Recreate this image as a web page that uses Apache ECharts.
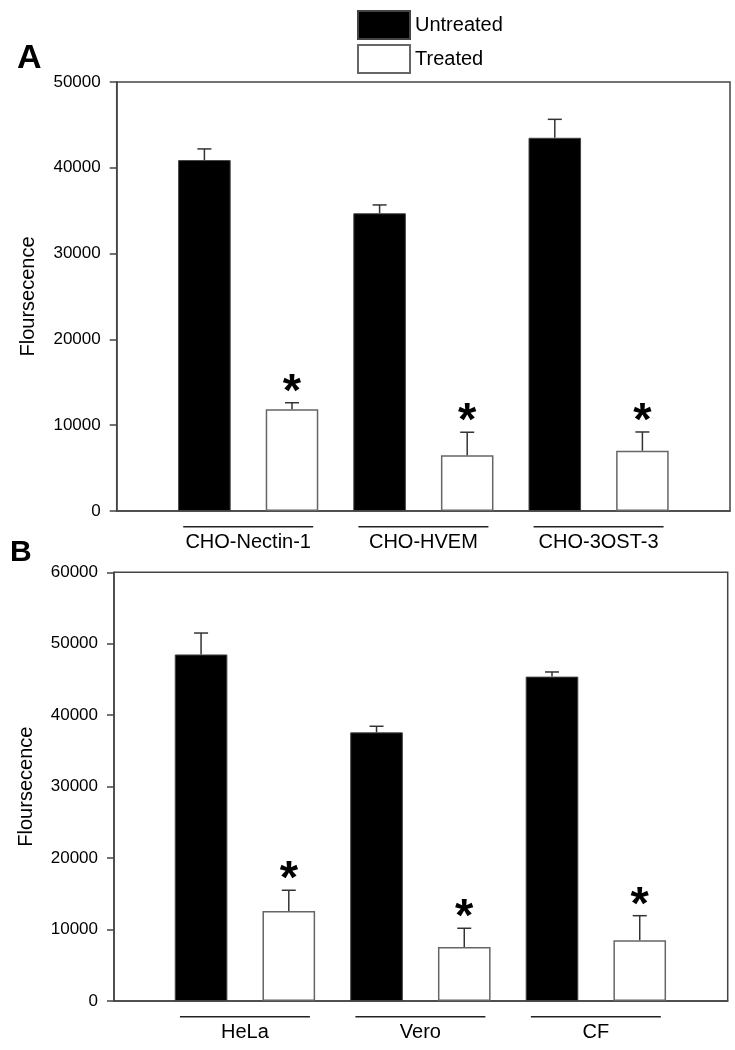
<!DOCTYPE html>
<html>
<head>
<meta charset="utf-8">
<script src="https://cdn.jsdelivr.net/npm/echarts@6/dist/echarts.min.js"></script>
<style>
  html, body { margin: 0; padding: 0; background: #fff; }
  #chart { width: 735px; height: 1050px; }
</style>
</head>
<body>
<div id="chart"></div>
<script>
// panel A data
const categoriesA = ['CHO-Nectin-1', 'CHO-HVEM', 'CHO-3OST-3']
const untreatedA = [40900, 34700, 43500]
const untreatedErrA = [1300, 970, 2150]
const treatedA = [11850, 6500, 7030]
const treatedErrA = [770, 2680, 2180]
const significantA = [1, 1, 1]
const yMaxA = 50000

// panel B data
const categoriesB = ['HeLa', 'Vero', 'CF']
const untreatedB = [48500, 37600, 45400]
const untreatedErrB = [3000, 850, 650]
const treatedB = [12600, 7560, 8500]
const treatedErrB = [2900, 2620, 3440]
const significantB = [1, 1, 1]
const yMaxB = 60000

const yInterval = 10000
const FONT = 'Liberation Sans, Arial, sans-serif'

const chart = echarts.init(document.getElementById('chart'))

// error bar (+ optional asterisk) drawn through the bar grid scales
function errorSeries (name, xIdx, yIdx, values, errs, sig, offset) {
  return {
    name: name,
    type: 'custom',
    xAxisIndex: xIdx,
    yAxisIndex: yIdx,
    z: 5,
    data: values.map((v, i) => [i, v, errs[i], sig ? sig[i] : 0]),
    renderItem: function (params, api) {
      const base = api.coord([api.value(0), api.value(1)])
      const top = api.coord([api.value(0), api.value(1) + api.value(2)])
      const band = api.size([1, 0])[0]
      const x = base[0] + offset * band
      const style = { stroke: '#333', lineWidth: 1.5 }
      const children = [
        { type: 'line', shape: { x1: x, y1: base[1], x2: x, y2: top[1] }, style: style },
        { type: 'line', shape: { x1: x - 7, y1: top[1], x2: x + 7, y2: top[1] }, style: style }
      ]
      if (api.value(3)) {
        children.push({
          type: 'text',
          style: {
            text: '*',
            x: x,
            y: top[1] - 10,
            align: 'center',
            verticalAlign: 'middle',
            font: 'bold 47px ' + FONT,
            fill: '#000'
          }
        })
      }
      return { type: 'group', children: children }
    }
  }
}

function catLabel () {
  return {
    margin: 15,
    interval: 0,
    formatter: v => '{u|}\n{t|' + v + '}',
    rich: {
      u: { width: 130, height: 1.5, backgroundColor: '#222' },
      t: { fontSize: 20, fontFamily: FONT, color: '#000', lineHeight: 29 }
    }
  }
}

function frameY (gridIndex, max) {
  return {
    type: 'value',
    gridIndex: gridIndex,
    min: 0,
    max: max,
    interval: yInterval,
    name: 'Floursecence',
    nameLocation: 'middle',
    nameGap: 78,
    nameTextStyle: { fontSize: 20, fontFamily: FONT, color: '#000' },
    axisLine: { show: true, lineStyle: { color: '#444', width: 1.5 } },
    axisTick: { show: true, inside: false, length: 7, lineStyle: { color: '#444', width: 1.5 } },
    axisLabel: { margin: 16, fontSize: 17, fontFamily: FONT, color: '#000', formatter: v => String(v) },
    splitLine: { show: false }
  }
}

function barY (gridIndex, max) {
  return {
    type: 'value', gridIndex: gridIndex, min: 0, max: max, interval: yInterval, show: false
  }
}

const untreatedStyle = { color: '#000', borderColor: '#444', borderWidth: 1 }
const treatedStyle = { color: '#fff', borderColor: '#666', borderWidth: 1.5 }

const option = {
  animation: false,
  backgroundColor: '#fff',
  title: [
    { text: 'A', left: 12, top: 37, textStyle: { fontSize: 34, fontWeight: 'bold', fontFamily: FONT, color: '#000' } },
    { text: 'B', left: 5, top: 533, textStyle: { fontSize: 30, fontWeight: 'bold', fontFamily: FONT, color: '#000' } }
  ],
  legend: {
    data: ['Untreated', 'Treated'],
    orient: 'vertical',
    left: 352,
    top: 5,
    itemWidth: 52,
    itemHeight: 28,
    itemGap: 4,
    icon: 'rect',
    textStyle: { fontSize: 20, fontFamily: FONT, color: '#000' }
  },
  grid: [
    // frames
    { left: 116.7, right: 5, top: 82, bottom: 539, show: true, borderColor: '#444', borderWidth: 1.5 },
    { left: 114, right: 7.3, top: 572.3, bottom: 49, show: true, borderColor: '#444', borderWidth: 1.5 },
    // bar areas
    { left: 160.6, right: 48.8, top: 82, bottom: 539 },
    { left: 157.2, right: 51.4, top: 572.3, bottom: 49 }
  ],
  xAxis: [
    { type: 'value', gridIndex: 0, min: 0, max: 1, axisLabel: { show: false }, axisTick: { show: false }, splitLine: { show: false }, axisLine: { lineStyle: { color: '#444', width: 1.5 } } },
    { type: 'value', gridIndex: 1, min: 0, max: 1, axisLabel: { show: false }, axisTick: { show: false }, splitLine: { show: false }, axisLine: { lineStyle: { color: '#444', width: 1.5 } } },
    { type: 'category', gridIndex: 2, data: categoriesA, axisLine: { show: false }, axisTick: { show: false }, axisLabel: catLabel() },
    { type: 'category', gridIndex: 3, data: categoriesB, axisLine: { show: false }, axisTick: { show: false }, axisLabel: catLabel() }
  ],
  yAxis: [
    frameY(0, yMaxA),
    frameY(1, yMaxB),
    barY(2, yMaxA),
    barY(3, yMaxB)
  ],
  series: [
    { name: 'Untreated', type: 'bar', xAxisIndex: 2, yAxisIndex: 2, data: untreatedA, barGap: '66.7%', barCategoryGap: '20%', itemStyle: untreatedStyle },
    { name: 'Treated', type: 'bar', xAxisIndex: 2, yAxisIndex: 2, data: treatedA, barGap: '66.7%', barCategoryGap: '20%', itemStyle: treatedStyle },
    { name: 'Untreated', type: 'bar', xAxisIndex: 3, yAxisIndex: 3, data: untreatedB, barGap: '66.7%', barCategoryGap: '20%', itemStyle: untreatedStyle },
    { name: 'Treated', type: 'bar', xAxisIndex: 3, yAxisIndex: 3, data: treatedB, barGap: '66.7%', barCategoryGap: '20%', itemStyle: treatedStyle },
    errorSeries('errUA', 2, 2, untreatedA, untreatedErrA, null, -0.25),
    errorSeries('errTA', 2, 2, treatedA, treatedErrA, significantA, 0.25),
    errorSeries('errUB', 3, 3, untreatedB, untreatedErrB, null, -0.25),
    errorSeries('errTB', 3, 3, treatedB, treatedErrB, significantB, 0.25)
  ]
}

chart.setOption(option)
</script>
</body>
</html>
